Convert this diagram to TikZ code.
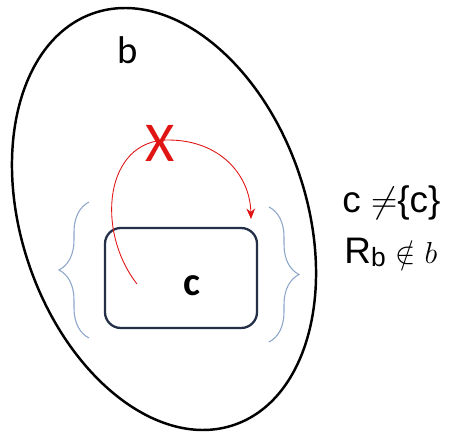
\documentclass[tikz,border=0pt]{standalone}
\usepackage{fontspec}
\setmainfont{Carlito}
\newfontfamily\arialfont{Liberation Sans}
\usepackage{amsmath,amssymb}
\usetikzlibrary{arrows.meta,positioning,shapes.geometric,decorations.pathreplacing}
\definecolor{setnavy}{RGB}{35,48,72}
\definecolor{arrowred}{RGB}{225,20,20}
\definecolor{bracegray}{RGB}{140,165,200}

\begin{document}
\begin{tikzpicture}[
    >=Stealth,
    setline/.style={draw=black, line width=1.4pt},
    innerbox/.style={draw=setnavy, rounded corners=9pt, line width=1.3pt, minimum width=3.04cm, minimum height=2.0cm},
    bracestyle/.style={draw=bracegray, line width=0.6pt, decorate, decoration={brace, amplitude=0.6cm}},
    mapline/.style={draw=arrowred, line width=0.5pt, -{Stealth[length=6pt,width=5pt]}},
    rel/.style={font=\arialfont\fontsize{21}{24}\selectfont, anchor=base west, inner sep=0pt}
]

% Frame
\useasboundingbox (0,0) rectangle (9.1,-8.64);

% Outer set b
\draw[setline] (3.28,-4.38) ellipse[x radius=2.85cm, y radius=4.35cm, rotate=18.8];
\node[font=\fontsize{22}{26}\selectfont] (blabel) at (2.56,-1.0) {b};

% Inner set c
\node[innerbox] (cbox) at (3.62,-5.56) {};
\node[font=\bfseries\fontsize{23}{26}\selectfont] (clabel) at (3.84,-5.72) {c};

% Braces round c
\draw[bracestyle] (1.78,-6.76) -- (1.78,-4.04);
\draw[bracestyle] (5.38,-4.14) -- (5.38,-6.84);

% Blocked map (red arc)
\coordinate (arcstart) at (2.74,-5.68);
\coordinate (arcend) at (5.02,-4.38);
\draw[mapline] (arcstart) .. controls (1.9,-4.6) and (2.1,-2.8) .. (3.36,-2.8)
    .. controls (4.4,-2.8) and (5.0,-3.5) .. (arcend);
\node[text=arrowred, font=\fontsize{32}{36}\selectfont] (cross) at (3.20,-2.86) {X};

% Relations
\node[rel] (neq) at (6.84,-4.26) {c $\neq$\{c\}};
\node[rel] (notin) at (6.88,-5.26) {R{\fontsize{15}{17}\selectfont\raisebox{-0.12em}{b}} {\fontsize{17}{20}\selectfont$\notin b$}};

\end{tikzpicture}
\end{document}
